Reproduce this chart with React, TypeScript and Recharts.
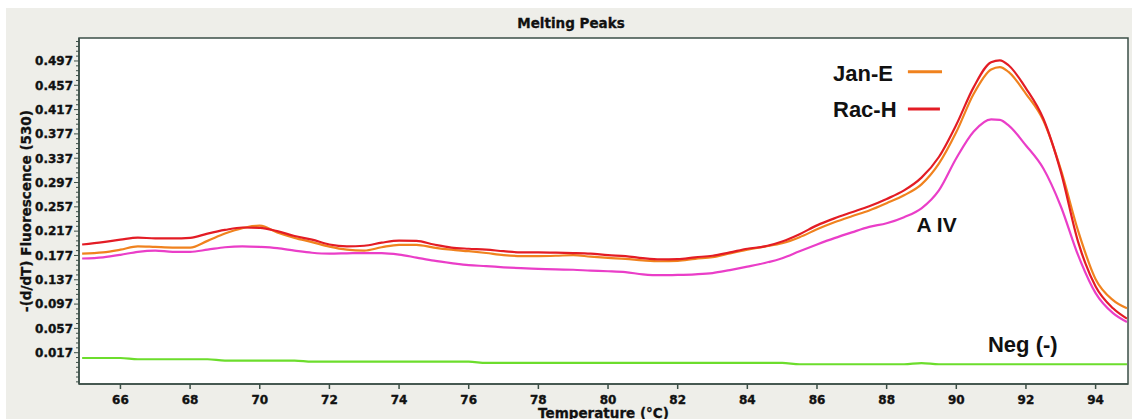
import React from 'react';
import {
  LineChart,
  Line,
  XAxis,
  YAxis,
  CartesianGrid,
  ReferenceArea,
  ReferenceDot,
  ReferenceLine,
} from 'recharts';

// ---------- data ----------
const temperatures = [
  64.9, 65.5, 66, 66.5, 67, 67.5, 68, 68.5, 69, 69.5, 70, 70.5, 71, 71.5, 72, 72.5,
  73, 73.5, 74, 74.5, 75, 75.5, 76, 76.5, 77, 77.5, 78, 78.5, 79, 79.5, 80, 80.5,
  81, 81.5, 82, 82.5, 83, 83.5, 84, 84.5, 85, 85.5, 86, 86.5, 87, 87.5, 88, 88.5,
  89, 89.5, 90, 90.5, 91, 91.25, 91.5, 92, 92.5, 93, 93.5, 94, 94.5, 94.9,
];

const racH = [
  0.195, 0.199, 0.203, 0.2065, 0.205, 0.205, 0.206, 0.213, 0.219, 0.223, 0.2225, 0.217,
  0.209, 0.203, 0.195, 0.192, 0.193, 0.198, 0.2015, 0.201, 0.195, 0.19, 0.188, 0.1865,
  0.184, 0.182, 0.182, 0.1815, 0.181, 0.18, 0.1775, 0.176, 0.1725, 0.1705, 0.171, 0.174,
  0.1765, 0.182, 0.188, 0.192, 0.2, 0.212, 0.2265, 0.238, 0.248, 0.258, 0.27, 0.284,
  0.305, 0.339, 0.392, 0.454, 0.495, 0.498, 0.49, 0.452, 0.402, 0.315, 0.199, 0.126,
  0.09, 0.073,
];

const janE = [
  0.18, 0.182, 0.1865, 0.192, 0.191, 0.19, 0.19, 0.201, 0.213, 0.222, 0.226, 0.215,
  0.206, 0.199, 0.1915, 0.1865, 0.185, 0.1905, 0.1945, 0.1945, 0.19, 0.1865, 0.184, 0.181,
  0.1775, 0.176, 0.176, 0.1765, 0.1775, 0.175, 0.173, 0.1715, 0.169, 0.1675, 0.168, 0.1715,
  0.174, 0.1805, 0.1865, 0.1915, 0.197, 0.207, 0.22, 0.2315, 0.2415, 0.251, 0.263, 0.276,
  0.294, 0.328, 0.38, 0.443, 0.483, 0.487, 0.479, 0.443, 0.399, 0.3186, 0.217, 0.138,
  0.1035, 0.09,
];

const aIV = [
  0.172, 0.174, 0.178, 0.183, 0.185, 0.183, 0.183, 0.1865, 0.1905, 0.192, 0.191, 0.189,
  0.185, 0.1815, 0.18, 0.1805, 0.181, 0.181, 0.1785, 0.1735, 0.1685, 0.1645, 0.161, 0.1595,
  0.1575, 0.156, 0.155, 0.154, 0.1535, 0.152, 0.151, 0.1495, 0.146, 0.1445, 0.145, 0.146,
  0.148, 0.153, 0.1585, 0.1645, 0.1725, 0.184, 0.195, 0.2055, 0.215, 0.224, 0.23, 0.24,
  0.2545, 0.284, 0.337, 0.381, 0.401, 0.4, 0.391, 0.358, 0.32, 0.258, 0.177, 0.115,
  0.082, 0.0675,
];

const negControl = [
  0.0083, 0.0083, 0.0083, 0.0062, 0.0062, 0.0062, 0.0062, 0.0062, 0.0039, 0.0039, 0.0039, 0.0039,
  0.0039, 0.0022, 0.0022, 0.0022, 0.0022, 0.0022, 0.0022, 0.0022, 0.0022, 0.0022, 0.0022, 0.0001,
  0.0001, 0.0001, 0.0001, 0.0001, 0.0001, 0.0001, 0.0001, 0.0001, 0.0001, 0.0001, 0.0001, 0.0001,
  0.0001, 0.0001, 0.0001, 0.0001, 0.0001, -0.002, -0.002, -0.002, -0.002, -0.002, -0.002, -0.002,
  0.0, -0.002, -0.002, -0.002, -0.002, -0.002, -0.002, -0.002, -0.002, -0.002, -0.002, -0.002,
  -0.002, -0.002,
];

const xTicks = [66, 68, 70, 72, 74, 76, 78, 80, 82, 84, 86, 88, 90, 92, 94];
const yTicks = [
  0.017, 0.057, 0.097, 0.137, 0.177, 0.217, 0.257, 0.297, 0.337, 0.377, 0.417, 0.457, 0.497,
];
const X_DOMAIN: [number, number] = [64.81, 94.93];
const Y_DOMAIN: [number, number] = [-0.0345, 0.5348];
const Y_MINOR_STEP = 0.008;

const legendItems = [
  { text: 'Jan-E', color: '#F0821E', tx: 86.46, ty: 0.4767, x1: 88.61, x2: 89.59, ly: 0.4793 },
  { text: 'Rac-H', color: '#E31C25', tx: 86.46, ty: 0.4172, x1: 88.61, x2: 89.53, ly: 0.418 },
];
const annotations = [
  { text: 'A IV', x: 88.86, y: 0.2285, size: 21 },
  { text: 'Neg (-)', x: 90.91, y: 0.0305, size: 22 },
];

// ---------- derived ----------
const data = temperatures.map((t, i) => ({
  t,
  racH: racH[i],
  janE: janE[i],
  aIV: aIV[i],
  neg: negControl[i],
}));

const allYTicks: number[] = [];
for (let k = -8; k <= 70; k++) {
  const v = +(yTicks[0] + k * Y_MINOR_STEP).toFixed(4);
  if (v >= Y_DOMAIN[0] && v <= Y_DOMAIN[1]) allYTicks.push(v);
}

const AXIS = '#3B4F47';
const TICK_FONT = "'DejaVu Sans', Verdana, sans-serif";
const ANN_FONT = "'Liberation Sans', Arial, sans-serif";

const YTick = (props: any) => {
  const { x, y, payload } = props;
  const v = payload.value as number;
  const isMajor = yTicks.some((t) => Math.abs(t - v) < 1e-6);
  return (
    <g>
      <line x1={x - (isMajor ? 5 : 3)} x2={x} y1={y} y2={y} stroke={AXIS} strokeWidth={1} />
      {isMajor && (
        <text
          x={x - 6}
          y={y}
          dy="0.36em"
          textAnchor="end"
          fontFamily={TICK_FONT}
          fontWeight="bold"
          fontSize={12}
          fill="#111"
          stroke="#111"
          strokeWidth={0.35}
        >
          {v.toFixed(3)}
        </text>
      )}
    </g>
  );
};

const makeLabel = (text: string, size: number) => (p: any) => {
  const vb = p.viewBox || {};
  return (
    <text
      x={vb.x}
      y={vb.y}
      dy="0.36em"
      textAnchor="start"
      fontFamily={ANN_FONT}
      fontWeight="bold"
      fontSize={size}
      fill="#111"
    >
      {text}
    </text>
  );
};

export default function App() {
  return (
    <div
      style={{
        position: 'fixed',
        left: 6,
        top: 8,
        width: 1126,
        height: 411,
        background: '#EEEEE9',
        overflow: 'hidden',
      }}
    >
      <LineChart
        width={1126}
        height={411}
        data={data}
        margin={{ top: 30, right: 4, bottom: 0, left: 13 }}
      >
        <CartesianGrid horizontal={false} vertical={false} fill="#FFFFFF" />
        <XAxis
          dataKey="t"
          type="number"
          domain={X_DOMAIN}
          allowDataOverflow
          ticks={xTicks}
          interval={0}
          height={35}
          tickSize={5}
          tickMargin={6}
          stroke={AXIS}
          strokeWidth={1.5}
          tick={{
            fill: '#111',
            stroke: '#111',
            strokeWidth: 0.35,
            fontSize: 12,
            fontWeight: 'bold',
            fontFamily: TICK_FONT,
          }}
          label={{
            value: 'Temperature (°C)',
            position: 'insideBottom',
            offset: 1,
            fill: '#111',
            stroke: '#111',
            strokeWidth: 0.3,
            fontSize: 13.5,
            fontWeight: 'bold',
            fontFamily: TICK_FONT,
          }}
        />
        <YAxis
          type="number"
          domain={Y_DOMAIN}
          allowDataOverflow
          ticks={allYTicks}
          interval={0}
          width={60}
          tickSize={0}
          tickMargin={0}
          tickLine={false}
          stroke={AXIS}
          strokeWidth={1.5}
          tick={<YTick />}
          label={{
            value: '-(d/dT) Fluorescence (530)',
            angle: -90,
            position: 'insideLeft',
            offset: 7,
            fill: '#111',
            stroke: '#111',
            strokeWidth: 0.3,
            fontSize: 13.5,
            fontWeight: 'bold',
            fontFamily: TICK_FONT,
            style: { textAnchor: 'middle' },
          }}
        />
        <ReferenceArea
          x1={X_DOMAIN[0]}
          x2={X_DOMAIN[1]}
          y1={Y_DOMAIN[0]}
          y2={Y_DOMAIN[1]}
          fill="none"
          fillOpacity={0}
          stroke={AXIS}
          strokeWidth={1.5}
          ifOverflow="visible"
        />
        <Line type="monotone" dataKey="neg" stroke="#6CDD2C" strokeWidth={2.2} dot={false} activeDot={false} isAnimationActive={false} />
        <Line type="monotone" dataKey="aIV" stroke="#EA3EC8" strokeWidth={2.2} dot={false} activeDot={false} isAnimationActive={false} />
        <Line type="monotone" dataKey="janE" stroke="#F0821E" strokeWidth={2.2} dot={false} activeDot={false} isAnimationActive={false} />
        <Line type="monotone" dataKey="racH" stroke="#E31C25" strokeWidth={2.2} dot={false} activeDot={false} isAnimationActive={false} />
        {legendItems.map((it) => (
          <ReferenceLine
            key={it.text + '-line'}
            segment={[
              { x: it.x1, y: it.ly },
              { x: it.x2, y: it.ly },
            ]}
            stroke={it.color}
            strokeWidth={3}
          />
        ))}
        {legendItems.map((it) => (
          <ReferenceDot
            key={it.text}
            x={it.tx}
            y={it.ty}
            r={0}
            fill="none"
            stroke="none"
            label={makeLabel(it.text, 22)}
          />
        ))}
        {annotations.map((a) => (
          <ReferenceDot
            key={a.text}
            x={a.x}
            y={a.y}
            r={0}
            fill="none"
            stroke="none"
            label={makeLabel(a.text, a.size)}
          />
        ))}
      </LineChart>
      <div
        style={{
          position: 'absolute',
          left: 465,
          top: 7,
          width: 200,
          textAlign: 'center',
          fontFamily: TICK_FONT,
          fontWeight: 'bold',
          fontSize: 13.5,
          lineHeight: '16px',
          color: '#111',
          WebkitTextStroke: '0.3px #111',
        }}
      >
        Melting Peaks
      </div>
    </div>
  );
}
